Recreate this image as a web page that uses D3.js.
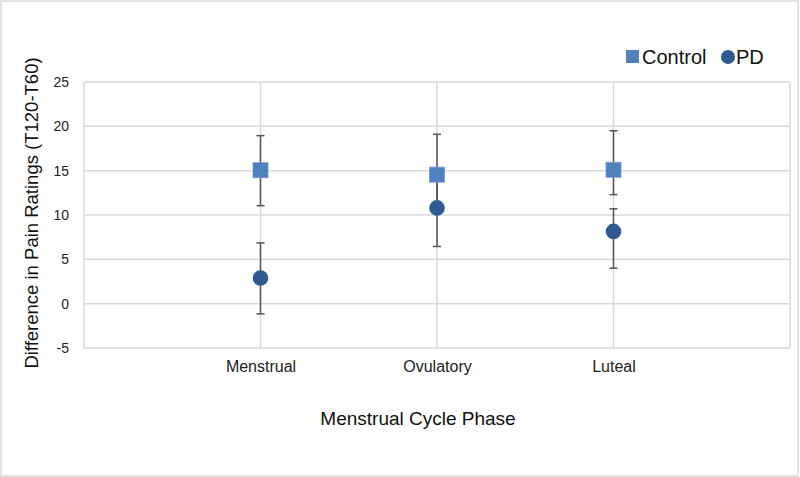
<!DOCTYPE html>
<html><head><meta charset="utf-8">
<script src="https://cdn.jsdelivr.net/npm/d3@7/dist/d3.min.js"></script>
<style>body{margin:0;background:#fff}svg{display:block;font-family:"Liberation Sans",Arial,Helvetica,sans-serif}</style>
</head><body><svg id="c" width="800" height="477"></svg>
<script>
const categories = ["Menstrual", "Ovulatory", "Luteal"];
const controlMean = [15.05, 14.55, 15.1];
const controlLow  = [11.05, 10.6, 12.3];
const controlHigh = [18.95, 19.1, 19.5];
const pdMean = [2.9, 10.8, 8.15];
const pdLow  = [-1.15, 6.45, 4.0];
const pdHigh = [6.85, 14.5, 10.7];
const yTicks = [-5, 0, 5, 10, 15, 20, 25];

const svg = d3.select("#c");
svg.append("rect").attr("x",1).attr("y",1).attr("width",797).attr("height",475)
  .attr("fill","#fff").attr("stroke","#d9d9d9").attr("stroke-width",1.5);

const L=84,R=790,T=82,B=348;
const x = d3.scaleLinear().domain([0,4]).range([L,R]);
const y = d3.scaleLinear().domain([-5,25]).range([B,T]);

svg.append("g").selectAll("line").data(yTicks).join("line")
  .attr("x1",L).attr("x2",R).attr("y1",d=>y(d)).attr("y2",d=>y(d))
  .attr("stroke","#d9d9d9").attr("stroke-width",1.5);
svg.append("g").selectAll("line").data([0,1,2,3,4]).join("line")
  .attr("x1",d=>x(d)).attr("x2",d=>x(d)).attr("y1",T).attr("y2",B)
  .attr("stroke","#d9d9d9").attr("stroke-width",1.5);

const ya = svg.append("g").attr("transform",`translate(${L},0)`)
  .call(d3.axisLeft(y).tickValues(yTicks).tickFormat(d=>String(d)).tickSize(0).tickPadding(15));
ya.select(".domain").remove();
ya.selectAll("text").attr("font-size",14).attr("fill","#222").style("font-family","inherit");

const xa = svg.append("g").attr("transform",`translate(0,${B})`)
  .call(d3.axisBottom(x).tickValues([1,2,3]).tickFormat(d=>categories[d-1]).tickSize(0).tickPadding(13));
xa.select(".domain").remove();
xa.selectAll("text").attr("font-size",16).attr("fill","#222").style("font-family","inherit");

svg.append("text").attr("x",418).attr("y",425).attr("text-anchor","middle")
  .attr("font-size",19).attr("fill","#111").text("Menstrual Cycle Phase");
svg.append("text").attr("transform","translate(38,213) rotate(-90)").attr("text-anchor","middle")
  .attr("font-size",18.5).attr("fill","#111").text("Difference in Pain Ratings (T120-T60)");

const cCol="#4f81bd", pCol="#2f5b93", eCol="#555";
function errBars(lo,hi){
  const g=svg.append("g").attr("stroke",eCol).attr("stroke-width",1.5);
  categories.forEach((c,i)=>{
    const cx=x(i+1);
    g.append("line").attr("x1",cx).attr("x2",cx).attr("y1",y(lo[i])).attr("y2",y(hi[i]));
    [lo[i],hi[i]].forEach(v=>g.append("line").attr("x1",cx-4).attr("x2",cx+4).attr("y1",y(v)).attr("y2",y(v)));
  });
}
errBars(controlLow,controlHigh);
errBars(pdLow,pdHigh);

svg.append("g").selectAll("rect").data(controlMean).join("rect")
  .attr("x",(d,i)=>x(i+1)-7.5).attr("y",d=>y(d)-7.5).attr("width",15).attr("height",15)
  .attr("fill",cCol).attr("stroke","#6f9ad0").attr("stroke-width",0.8);
svg.append("g").selectAll("circle").data(pdMean).join("circle")
  .attr("cx",(d,i)=>x(i+1)).attr("cy",d=>y(d)).attr("r",7.8).attr("fill",pCol);

const lg=svg.append("g");
lg.append("rect").attr("x",626).attr("y",50).attr("width",13).attr("height",13).attr("fill",cCol);
lg.append("text").attr("x",642).attr("y",64).attr("font-size",20).attr("fill","#111").text("Control");
lg.append("circle").attr("cx",728).attr("cy",57).attr("r",7).attr("fill",pCol);
lg.append("text").attr("x",736).attr("y",64).attr("font-size",20).attr("fill","#111").text("PD");
</script></body></html>
